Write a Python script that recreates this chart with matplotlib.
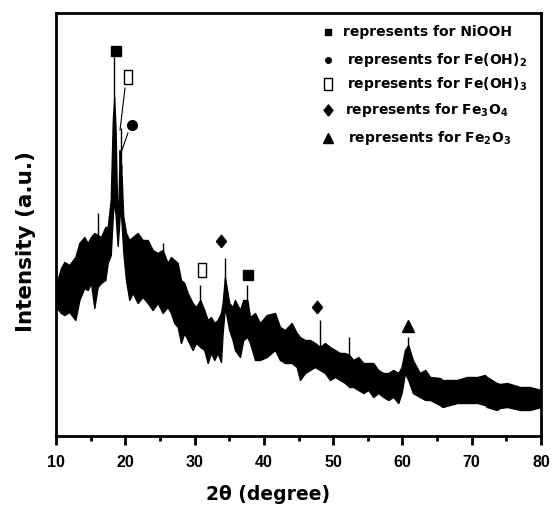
import matplotlib
matplotlib.use("Agg")
import matplotlib.pyplot as plt
from matplotlib.ticker import MultipleLocator

plt.rcParams['font.family'] = ['DejaVu Sans']
plt.rcParams['font.weight'] = 'bold'
plt.rcParams['mathtext.fontset'] = 'custom'
plt.rcParams['mathtext.rm'] = 'DejaVu Sans:bold'
plt.rcParams['mathtext.it'] = 'DejaVu Sans:bold'
plt.rcParams['mathtext.bf'] = 'DejaVu Sans:bold'

# ---- data (2theta in degrees, intensity in a.u.) ----
two_theta = [10.0, 10.72, 11.2, 11.92, 12.79, 13.37, 14.09, 14.57, 15.05, 15.53,
             16.01, 16.49, 17.12, 17.46, 17.9, 18.2, 18.4, 18.6, 18.9, 19.2,
             19.3, 19.4, 19.7, 20.1, 20.58, 21.07, 21.79, 22.51, 23.23, 23.95,
             24.67, 25.39, 26.11, 26.59, 27.07, 27.56, 28.04, 28.52, 29.0, 29.72,
             30.2, 30.82, 31.4, 31.89, 32.37, 32.85, 33.33, 33.81, 34.05, 34.38,
             35.0, 35.49, 35.83, 36.55, 37.03, 37.61, 38.0, 38.72, 39.44, 40.41,
             41.61, 42.33, 43.05, 44.01, 44.74, 45.21, 45.94, 46.66, 47.38, 48.1,
             48.82, 49.54, 50.27, 50.99, 51.71, 52.33, 52.9, 53.63, 54.35, 55.07,
             55.79, 56.51, 57.24, 57.96, 58.68, 59.4, 59.88, 60.36, 60.84, 61.5,
             62.5, 63.3, 64.0, 65.4, 65.8, 67.9, 69.3, 70.8, 71.9, 72.2,
             73.6, 74.1, 75.1, 77.0, 78.4, 80.0]
upper = [151, 168, 174, 171, 179, 193, 199, 193, 199, 203,
         201, 199, 209, 209, 236, 316, 339, 306, 201, 286,
         261, 271, 220, 203, 196, 199, 203, 196, 196, 186,
         183, 186, 173, 179, 176, 173, 156, 153, 143, 133,
         129, 136, 126, 116, 119, 113, 116, 123, 133, 159,
         133, 129, 136, 126, 136, 136, 119, 123, 113, 121,
         123, 109, 106, 113, 103, 99, 96, 96, 93, 89,
         93, 89, 86, 83, 83, 81, 76, 79, 73, 73,
         73, 66, 63, 63, 66, 63, 69, 86, 91, 76,
         63, 66, 59, 58, 56, 56, 59, 59, 61, 59,
         53, 52, 53, 49, 49, 46]
lower = [129, 123, 121, 124, 116, 136, 148, 146, 153, 128,
         149, 153, 156, 173, 181, 221, 236, 221, 190, 221,
         221, 221, 185, 156, 136, 143, 133, 139, 133, 126,
         133, 123, 129, 123, 113, 109, 93, 103, 96, 86,
         93, 89, 86, 73, 83, 76, 83, 74, 103, 129,
         106, 96, 86, 79, 96, 99, 93, 76, 76, 79,
         86, 76, 73, 73, 69, 56, 63, 66, 69, 66,
         63, 56, 59, 56, 53, 49, 49, 46, 43, 46,
         39, 43, 39, 36, 39, 33, 43, 63, 56, 43,
         39, 36, 36, 31, 29, 33, 33, 33, 31, 29,
         26, 28, 29, 26, 26, 29]

# narrow spikes (position, base, top)
spike_x = [16.01, 18.4, 19.4, 25.39, 30.82, 34.38, 37.61, 48.1, 52.33, 60.84]
spike_base = [195, 335, 265, 180, 130, 150, 130, 85, 78, 88]
spike_top = [223, 379, 308, 193, 151, 178, 151, 116, 99, 99]

# phase markers (position, intensity)
niooh_x, niooh_y = [18.6, 37.7], [385, 161]
feoh3_x, feoh3_y = [20.4, 31.0], [359, 166]
feoh2_x, feoh2_y = [20.9], [311]
fe3o4_x, fe3o4_y = [33.8, 47.7], [195, 129]
fe2o3_x, fe2o3_y = [60.75], [110]

legend_labels = ['represents for NiOOH',
                 'represents for Fe(OH)$_2$',
                 'represents for Fe(OH)$_3$',
                 'represents for Fe$_3$O$_4$',
                 'represents for Fe$_2$O$_3$']

W, H = 555, 511
fig = plt.figure(figsize=(W / 100, H / 100), dpi=100)
ax = fig.add_axes([56 / W, 1 - 436 / H, (541 - 56) / W, (436 - 13) / H])

ax.fill_between(two_theta, lower, upper, color='black', linewidth=1.0, edgecolor='black')
ax.vlines(spike_x, spike_base, spike_top, color='black', linewidth=1.0)

rect = [(-0.32, -0.5), (0.32, -0.5), (0.32, 0.5), (-0.32, 0.5), (-0.32, -0.5)]
diam = [(0, -0.5), (0.4, 0), (0, 0.5), (-0.4, 0), (0, -0.5)]
ax.plot(niooh_x, niooh_y, 's', color='black', markersize=6.5, linestyle='none')
ax.plot(feoh3_x, feoh3_y, marker=rect, color='black', markerfacecolor='white',
        markersize=10, markeredgewidth=1.0, linestyle='none')
ax.plot(feoh2_x, feoh2_y, 'o', color='black', markersize=7, linestyle='none')
ax.plot(fe3o4_x, fe3o4_y, marker=diam, color='black', markersize=9, linestyle='none')
ax.plot(fe2o3_x, fe2o3_y, '^', color='black', markersize=8, linestyle='none')

# leader lines from labels to the twin peak
ax.plot([19.96, 19.24], [348, 306], color='black', linewidth=0.8)
ax.plot([20.39, 19.52], [303, 286], color='black', linewidth=0.8)

ax.set_xlim(10, 80)
ax.set_ylim(0, 423)
ax.xaxis.set_major_locator(MultipleLocator(10))
ax.xaxis.set_minor_locator(MultipleLocator(5))
ax.set_yticks([])
ax.tick_params(axis='x', which='major', direction='out', length=6.5, width=2,
               labelsize=11.5, pad=7)
ax.tick_params(axis='x', which='minor', direction='out', length=3.5, width=2)
for lab in ax.get_xticklabels():
    lab.set_fontweight('bold')
    lab.set_family('Liberation Sans')
for sp in ax.spines.values():
    sp.set_linewidth(2.0)

# legend drawn as markers + text (pixel positions in the figure)
leg_rows = [32, 60, 84, 110, 138]
leg_markers = [dict(marker='s', markersize=5, mfc='black'),
               dict(marker='o', markersize=4, mfc='black'),
               dict(marker=rect, markersize=9, mfc='white', mew=1.0),
               dict(marker=diam, markersize=8, mfc='black'),
               dict(marker='^', markersize=7, mfc='black')]
text_x = [343, 347, 347, 345, 348]
for py, mk, lbl, tx in zip(leg_rows, leg_markers, legend_labels, text_x):
    fig.lines.append(plt.Line2D([328 / W], [1 - py / H], transform=fig.transFigure,
                                color='black', linestyle='none', **mk))
    fig.text(tx / W, 1 - py / H, lbl, fontsize=10, fontweight='bold',
             ha='left', va='center')

fig.text(268 / W, 1 - 494 / H, '2θ (degree)', fontsize=13.5, fontweight='bold',
         ha='center', va='center')
fig.text(26 / W, 1 - 242 / H, 'Intensity (a.u.)', fontsize=15.5, fontweight='bold',
         ha='center', va='center', rotation=90)

fig.savefig('out.png', dpi=100)
